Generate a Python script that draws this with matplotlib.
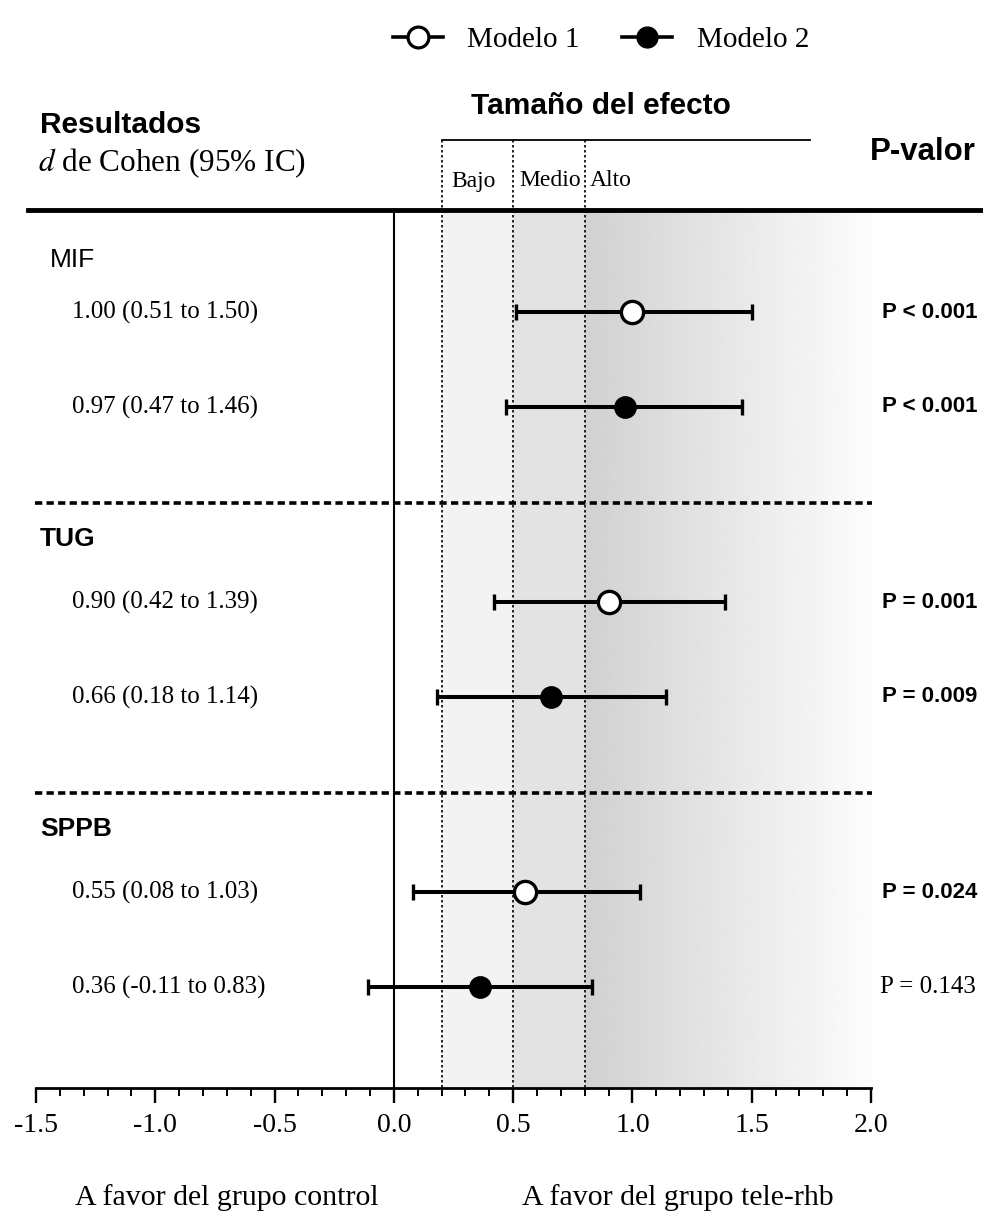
import matplotlib
matplotlib.use("Agg")
import matplotlib.pyplot as plt
import matplotlib.transforms as mtransforms
from matplotlib.lines import Line2D
import numpy as np

# datos
groups = ["MIF", "TUG", "SPPB"]
group_weight = ["normal", "bold", "bold"]
group_x = [50, 40, 40]
d_m1 = [1.00, 0.90, 0.55]
lo_m1 = [0.51, 0.42, 0.08]
hi_m1 = [1.50, 1.39, 1.03]
d_m2 = [0.97, 0.66, 0.36]
lo_m2 = [0.47, 0.18, -0.11]
hi_m2 = [1.46, 1.14, 0.83]
p_m1 = ["P < 0.001", "P = 0.001", "P = 0.024"]
p_m2 = ["P < 0.001", "P = 0.009", "P = 0.143"]
p_bold_m1 = [True, True, True]
p_bold_m2 = [True, True, False]
effect_cuts = [0.2, 0.5, 0.8]
effect_names = ["Bajo", "Medio", "Alto"]
effect_pad = [0.04, 0.025, 0.02]
xticks_major = [-1.5, -1.0, -0.5, 0.0, 0.5, 1.0, 1.5, 2.0]

W, H = 983, 1217
SERIF = "Liberation Serif"
SANS = "Liberation Sans"

fig = plt.figure(figsize=(W / 100, H / 100), dpi=100)
# axes covers the full height, y in pixel units (top = 0)
ax = fig.add_axes([36 / W, 0, (871 - 36) / W, 1])
ax.set_xlim(-1.5, 2.0)
ax.set_ylim(H, 0)

y_axis = 1088
y_top = 210
mix = mtransforms.blended_transform_factory(fig.transFigure, ax.transData)

def fx(px):
    return px / W

# shading
ax.fill_between([0.2, 0.5], y_top, y_axis, color="#f3f3f3", zorder=0, lw=0)
ax.fill_between([0.5, 0.8], y_top, y_axis, color="#e3e3e3", zorder=0, lw=0)
grad = np.linspace(0.82, 0.99, 256).reshape(1, -1)
ax.imshow(grad, cmap="gray", vmin=0, vmax=1, aspect="auto",
          extent=[0.8, 2.0, y_axis, y_top], zorder=0, interpolation="bilinear")

# zero line
ax.plot([0, 0], [y_top, y_axis], color="black", lw=1.5, zorder=1)

# dotted lines for effect sizes
for c in effect_cuts:
    ax.plot([c, c], [140, y_axis], color="black", lw=1.2, ls=(0, (1.5, 1.5)),
            zorder=1, clip_on=False)
ax.plot([0.2, 1.745], [140, 140], color="black", lw=1.3, clip_on=False)
for c, name, pad in zip(effect_cuts, effect_names, effect_pad):
    ax.text(c + pad, 181, name, ha="left", va="center", family=SERIF,
            fontsize=17)

# thick top rule
fig.add_artist(Line2D([fx(28), 1], [1 - y_top / H, 1 - y_top / H],
                      color="black", lw=3.5))

# rows
g_step = 290
for g, name in enumerate(groups):
    y1 = 312 + g * g_step
    y2 = y1 + 95
    yh = y1 - 52 if g == 0 else y1 - 63
    ax.text(fx(group_x[g]), yh, name, transform=mix, ha="left", va="center",
            family=SANS, fontsize=19, fontweight=group_weight[g])
    rows = [(y1, d_m1[g], lo_m1[g], hi_m1[g], "white", p_m1[g], p_bold_m1[g]),
            (y2, d_m2[g], lo_m2[g], hi_m2[g], "black", p_m2[g], p_bold_m2[g])]
    for y, d, lo, hi, fc, p, pb in rows:
        ax.errorbar([d], [y], xerr=[[d - lo], [hi - d]], fmt="o",
                    ms=16 if fc == "white" else 14,
                    mfc=fc, mec="black", mew=2.4, ecolor="black", elinewidth=2.9,
                    capsize=6, capthick=2.6, zorder=5)
        lab = "%.2f (%.2f to %.2f)" % (d, lo, hi)
        ax.text(fx(72), y, lab, transform=mix, ha="left", va="center",
                family=SERIF, fontsize=18)
        if pb:
            ax.text(fx(977), y, p, transform=mix, ha="right", va="center",
                    family=SANS, fontsize=16, fontweight="bold")
        else:
            ax.text(fx(976), y, p, transform=mix, ha="right", va="center",
                    family=SERIF, fontsize=18)
    if g < len(groups) - 1:
        ysep = y2 + 96
        ax.plot([fx(35), fx(872)], [ysep, ysep], transform=mix, color="black",
                lw=2.6, ls=(0, (2, 1.2)), clip_on=False)

# x axis
for s in ["left", "right", "top"]:
    ax.spines[s].set_visible(False)
ax.spines["bottom"].set_position(("data", y_axis))
ax.spines["bottom"].set_linewidth(2)
ax.set_xticks(xticks_major)
ax.set_xticklabels(["%.1f" % v for v in xticks_major], family=SERIF, fontsize=20)
ax.set_xticks(np.arange(-1.5, 2.0001, 0.1), minor=True)
ax.tick_params(axis="x", which="major", length=11, width=1.7, pad=7)
ax.tick_params(axis="x", which="minor", length=6, width=1.4)
ax.set_yticks([])
ax.patch.set_alpha(0)

# headers
fig.text(fx(40), 1 - 125 / H, "Resultados", family=SANS, fontsize=21.5,
         fontweight="bold", ha="left", va="center")
fig.text(fx(38), 1 - 163 / H, r"$\mathit{d}$ de Cohen (95% IC)", family=SERIF,
         fontsize=22.5, ha="left", va="center", math_fontfamily="stix")
fig.text(fx(601), 1 - 106 / H, "Tamaño del efecto", family=SANS, fontsize=21.5,
         fontweight="bold", ha="center", va="center")
fig.text(fx(976), 1 - 152 / H, "P-valor", family=SANS, fontsize=22.5,
         fontweight="bold", ha="right", va="center")

# footer
fig.text(fx(227), 1 - 1198 / H, "A favor del grupo control", family=SERIF,
         fontsize=21.5, ha="center", va="center")
fig.text(fx(678), 1 - 1198 / H, "A favor del grupo tele-rhb", family=SERIF,
         fontsize=21.5, ha="center", va="center")

# legend
h1 = Line2D([], [], color="black", lw=2.6, marker="o", ms=15, mfc="white",
            mec="black", mew=2.3)
h2 = Line2D([], [], color="black", lw=2.6, marker="o", ms=15, mfc="black",
            mec="black")
fig.legend([h1, h2], ["Modelo 1", "Modelo 2"], loc="center",
           bbox_to_anchor=(fx(601), 1 - 40 / H), ncol=2, frameon=False,
           prop={"family": SERIF, "size": 21}, handlelength=1.7,
           columnspacing=1.45, handletextpad=0.85)

fig.savefig("out.png", dpi=100)
